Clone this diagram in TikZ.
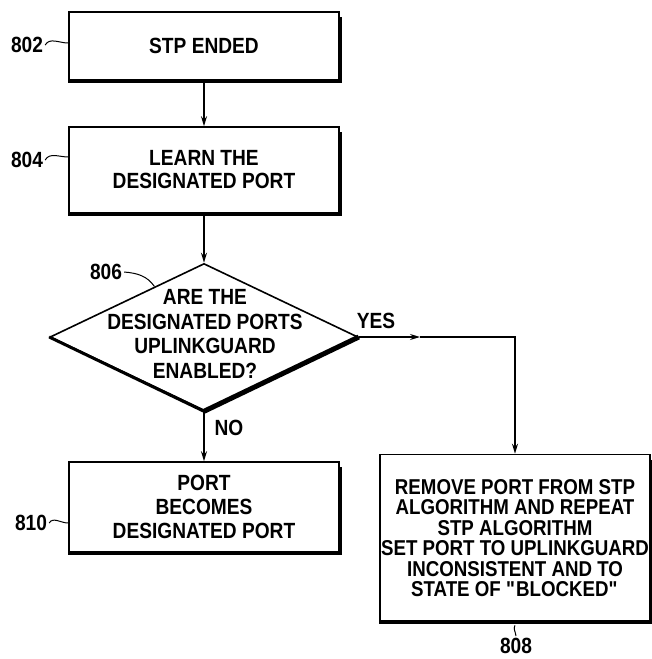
\documentclass[tikz,border=0pt]{standalone}
\usepackage{fontspec}
\setmainfont[FakeStretch=0.87]{Liberation Sans}
\usetikzlibrary{shapes.geometric,arrows.meta,calc}
\begin{document}
\begin{tikzpicture}[x=1pt,y=-1pt,
  every node/.style={font=\fontsize{22}{23}\selectfont\bfseries},
  box/.style={draw, line width=1.6pt, inner sep=0pt, align=center},
  shadowline/.style={line width=3.8pt, line join=miter},
  conn/.style={line width=1.2pt, -{Stealth[length=10pt,width=6pt]}},
  lbl/.style={inner sep=2pt},
  lead/.style={line width=1pt}]
\useasboundingbox (0,0) rectangle (652,659);

% boxes
\node[box, minimum width=270pt, minimum height=68pt] (b802) at (204,46) {STP ENDED};
\node[box, minimum width=270pt, minimum height=86pt] (b804) at (204,170) {LEARN THE\\DESIGNATED PORT};
\node[draw, diamond, line width=1.6pt, minimum width=308pt, minimum height=147pt, inner sep=0pt] (d806) at (204,337) {};
\node[align=center, font=\fontsize{22}{24.5}\selectfont\bfseries] (t806) at (205,334) {ARE THE\\DESIGNATED PORTS\\UPLINKGUARD\\ENABLED?};
\node[box, minimum width=270pt, minimum height=90pt, font=\fontsize{22}{24}\selectfont\bfseries] (b810) at (204,507) {PORT\\BECOMES\\DESIGNATED PORT};
\node[box, minimum width=270pt, minimum height=167pt, font=\fontsize{21.5}{20.5}\selectfont\bfseries] (b808) at (515,538) {REMOVE PORT FROM STP\\ALGORITHM AND REPEAT\\STP ALGORITHM\\SET PORT TO UPLINKGUARD\\INCONSISTENT AND TO\\STATE OF \textquotedbl BLOCKED\textquotedbl};

% shadows
\foreach \b in {b802,b804,b810,b808}
  \draw[shadowline] (\b.south west) -- (\b.south east) -- ([yshift=-6pt]\b.north east);
\draw[line width=3pt] (d806.west) -- (d806.south);
\draw[line width=5pt] (d806.south) -- (d806.east);

% connectors
\draw[conn] (b802.south) -- (b804.north);
\draw[conn] (b804.south) -- (d806.north);
\draw[conn] (d806.south) -- (b810.north);
\coordinate (ymid) at (420,337);
\coordinate (corner) at (515,337);
\draw[conn] (d806.east) -- (ymid);
\draw[conn] (ymid) -- (corner) -- (b808.north);

% branch labels
\node[lbl] (yes) at (376,321) {YES};
\node[lbl] (no) at (229,428) {NO};

% reference numerals
\node[lbl] (l802) at (27,45) {802};
\draw[lead] (l802.east) to[out=60,in=180] ([yshift=3pt]b802.west);
\node[lbl] (l804) at (27,160) {804};
\draw[lead] (l804.east) to[out=60,in=180] ([yshift=13pt]b804.west);
\node[lbl] (l806) at (106,272) {806};
\draw[lead] (l806.east) to[out=-5,in=125] ($(d806.west)!0.68!(d806.north)$);
\node[lbl] (l810) at (31,523) {810};
\draw[lead] (l810.east) to[out=60,in=180] ([yshift=-16pt]b810.west);
\node[lbl] (l808) at (516,646) {808};
\draw[lead] ([yshift=-3pt]b808.south) to[out=-120,in=95] (l808.north);
\end{tikzpicture}
\end{document}
